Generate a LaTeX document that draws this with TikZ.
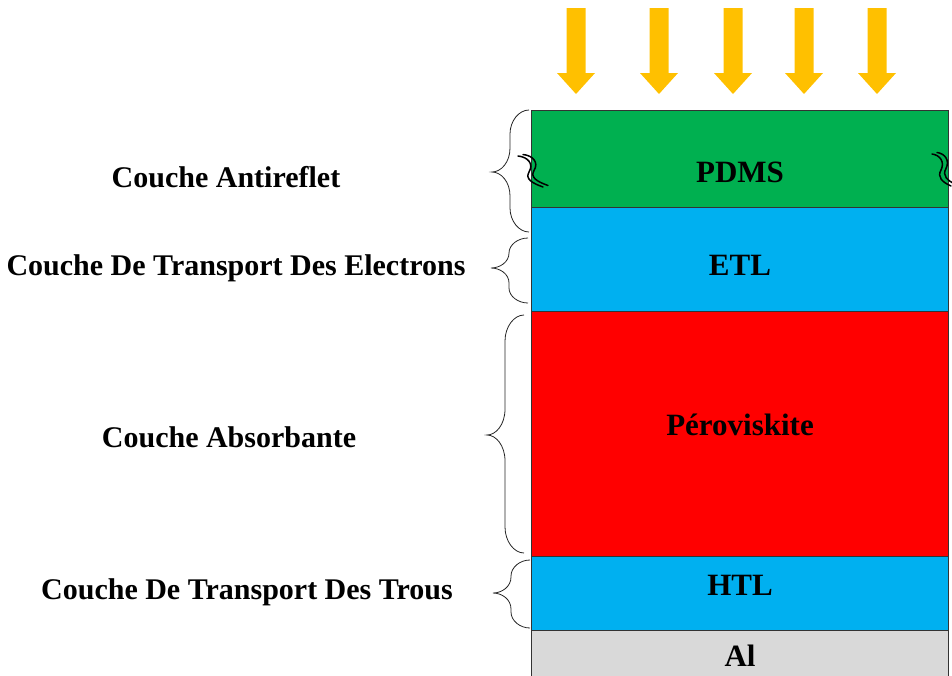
\documentclass[tikz,border=0pt]{standalone}
\usepackage{fontspec}
\setmainfont[Ligatures=NoCommon]{Liberation Serif}
\definecolor{pdmsgreen}{HTML}{00B050}
\definecolor{etlblue}{HTML}{00B0F0}
\definecolor{perored}{HTML}{FF0000}
\definecolor{algray}{HTML}{D9D9D9}
\definecolor{sunarrow}{HTML}{FFC000}
\newcommand{\layerbrace}[5]{% tip x, top, mid, bottom, radius
  \pgfmathsetmacro{\bxt}{#1}\pgfmathsetmacro{\bxm}{#1+18}\pgfmathsetmacro{\bxr}{#1+37}%
  \draw[bracestyle] (\bxr,#2) .. controls ({\bxm+9},#2) and (\bxm,{#2+0.45*#5}) .. (\bxm,{#2+#5})
    -- (\bxm,{#3-#5}) .. controls (\bxm,{#3-0.4*#5}) and ({\bxt+9},#3) .. (\bxt,#3)
    .. controls ({\bxt+9},#3) and (\bxm,{#3+0.4*#5}) .. (\bxm,{#3+#5})
    -- (\bxm,{#4-#5}) .. controls (\bxm,{#4-0.45*#5}) and ({\bxm+9},#4) .. (\bxr,#4);}
\newcommand{\sunarrowat}[1]{%
  \fill[sunarrow] ({#1-9.5},8) -- ({#1+9.5},8) -- ({#1+9.5},73) -- ({#1+19},73) -- (#1,94)
    -- ({#1-19},73) -- ({#1-9.5},73) -- cycle;}
\begin{document}
\begin{tikzpicture}[x=1pt,y=-1pt,
  layer/.style={draw=black!80,line width=0.9pt,rectangle,minimum width=417pt,inner sep=0pt,anchor=north west},
  ltext/.style={font=\fontsize{31}{36}\selectfont\bfseries},
  sidetext/.style={font=\fontsize{30}{36}\selectfont\bfseries},
  bracestyle/.style={draw=black!85,line width=0.8pt},
  wavestyle/.style={draw=black,line width=1.5pt,line cap=round}]
\useasboundingbox (0,0) rectangle (952,675);
\begin{scope}
\clip (0,0) rectangle (952,675);
% layers
\node[layer,fill=algray,minimum height=60pt] (al) at (531,630) {};
\node[layer,fill=etlblue,minimum height=74pt] (htl) at (531,556) {};
\node[layer,fill=perored,minimum height=245pt] (pero) at (531,311) {};
\node[layer,fill=etlblue,minimum height=104pt] (etl) at (531,207) {};
\node[layer,fill=pdmsgreen,minimum height=97pt] (pdms) at (531,110) {};
% layer texts
\node[ltext] (tpdms) at (740,172) {PDMS};
\node[ltext] (tetl) at (740,265) {ETL};
\node[ltext] (tpero) at (740,425) {Péroviskite};
\node[ltext] (thtl) at (740,585) {HTL};
\node[ltext,inner sep=0pt] (tal) at (740,656) {Al};
% arrows
\sunarrowat{576}
\sunarrowat{659}
\sunarrowat{733}
\sunarrowat{804}
\sunarrowat{877}
% wave marks
\foreach \dx in {0,5}{
  \draw[wavestyle] ({518+\dx},{156-1.5*\dx/5}) .. controls ({528+\dx},{157-1.5*\dx/5}) and ({534+\dx},{164-1.5*\dx/5}) .. ({529+\dx},{172-1.5*\dx/5})
     .. controls ({525+\dx},{179-1.5*\dx/5}) and ({532+\dx},{183-1.5*\dx/5}) .. ({543+\dx},{187-1.5*\dx/5});
  \draw[wavestyle] ({932+\dx},{154-1.5*\dx/5}) .. controls ({940+\dx},{155-1.5*\dx/5}) and ({945+\dx},{162-1.5*\dx/5}) .. ({941+\dx},{170-1.5*\dx/5})
     .. controls ({937+\dx},{177-1.5*\dx/5}) and ({942+\dx},{182-1.5*\dx/5}) .. ({951+\dx},{186-1.5*\dx/5});
}
\end{scope}
% braces
\layerbrace{492}{110}{172}{232}{24}
\layerbrace{491}{238}{268}{303}{15}
\layerbrace{487}{315}{435}{553}{26}
\layerbrace{493}{560}{593}{628}{16}
% side labels
\node[sidetext] (lanti) at (226,177) {Couche Antireflet};
\node[sidetext] (letl) at (236,268) {Couche De Transport Des Electrons};
\node[sidetext] (labs) at (229,437) {Couche Absorbante};
\node[sidetext] (lhtl) at (247,592) {Couche De Transport Des Trous};
\end{tikzpicture}
\end{document}
